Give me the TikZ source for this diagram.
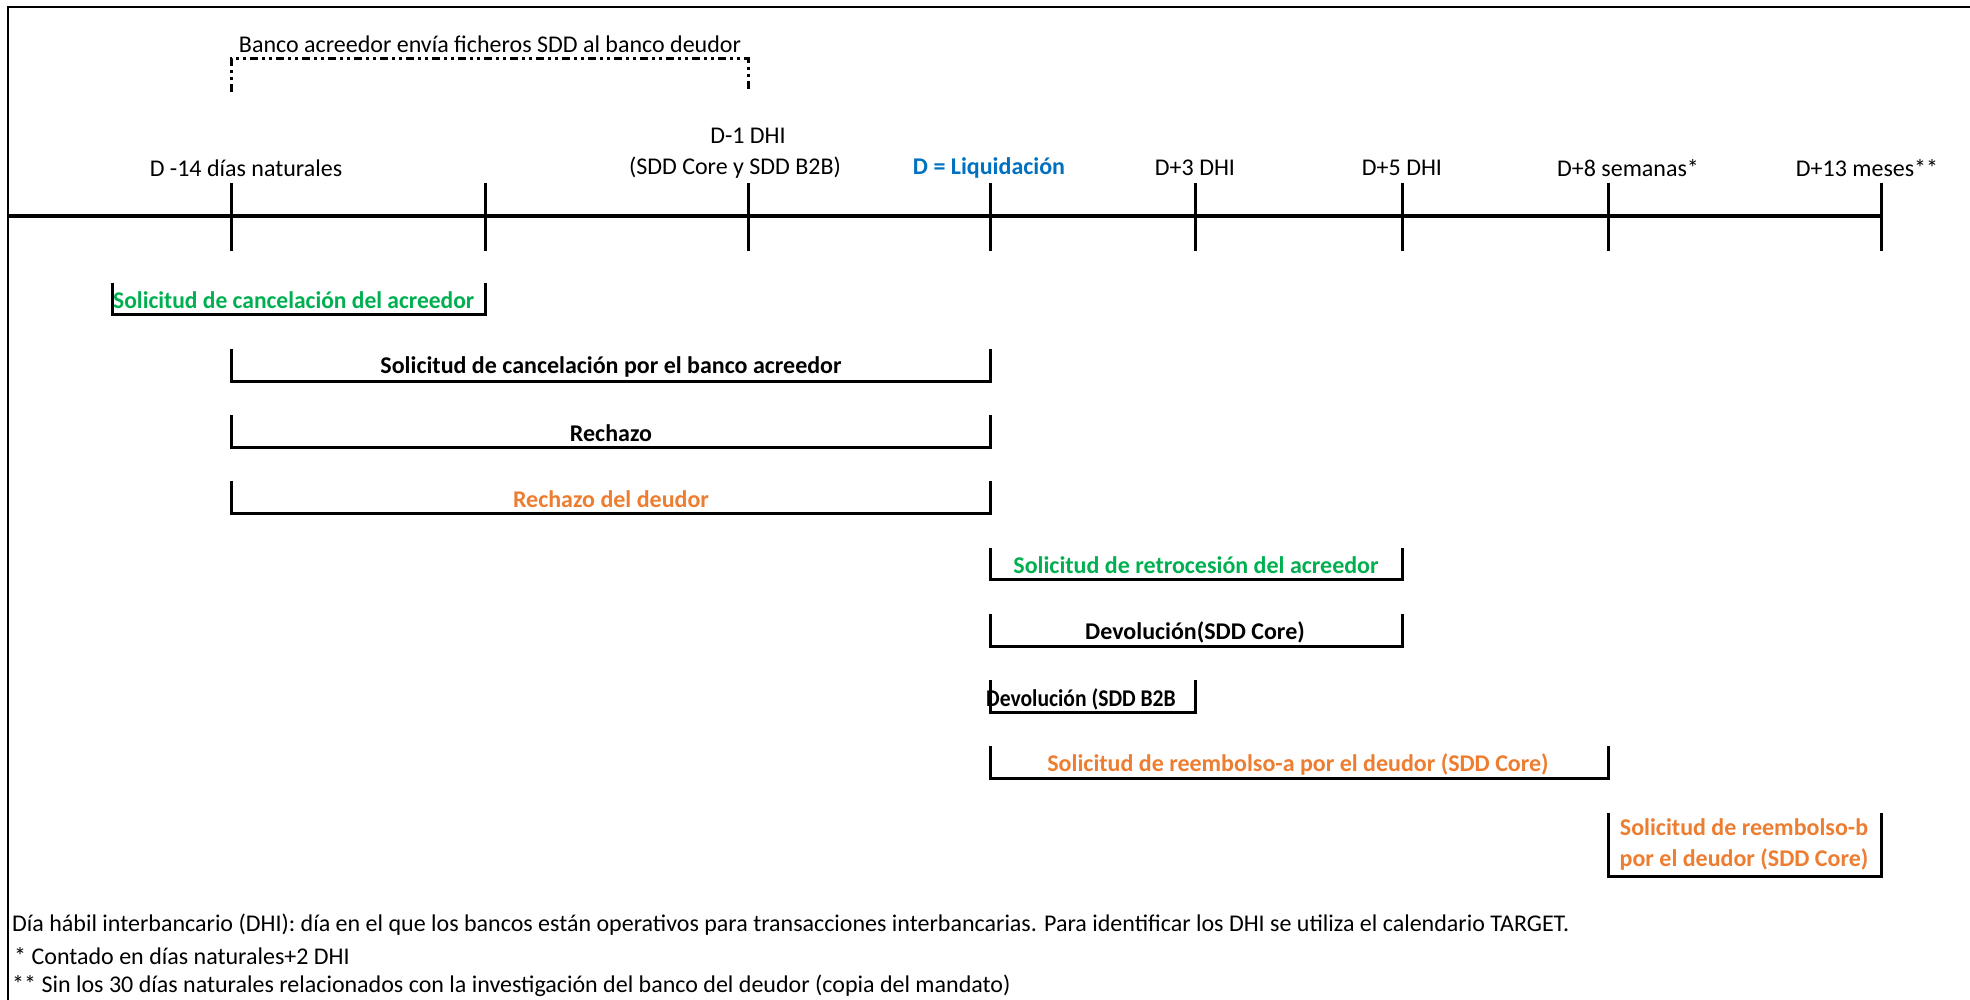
\documentclass[tikz,border=0pt]{standalone}
\usepackage{fontspec}
\setmainfont{Carlito}
\definecolor{exgreen}{HTML}{00B050}
\definecolor{exorange}{HTML}{ED7D31}
\definecolor{exblue}{HTML}{0070C0}
\begin{document}
\begin{tikzpicture}[x=1pt,y=-1pt,
  font=\fontsize{24}{28}\selectfont,
  lbl/.style={inner sep=0pt, anchor=center},
  blbl/.style={inner sep=0pt, anchor=center, font=\fontsize{24}{31}\selectfont\bfseries},
  bar/.style={line width=3pt, line join=miter},
  tick/.style={line width=3pt},
  axis/.style={line width=4.5pt}]
\useasboundingbox (0,0) rectangle (1970,1000);
% frame
\draw[line width=2.5pt] (8,1000) -- (8,7) -- (1970,7);
% tick coordinates
\foreach \n/\x in {a/231,b/485,c/748,d/990,e/1195,f/1402,g/1608,h/1881}{
  \coordinate (t\n) at (\x,183);
  \coordinate (u\n) at (\x,251);
}
\coordinate (axl) at (8,216);
\coordinate (axr) at (1881,216);
\draw[axis] (axl) -- (axr);
\foreach \n in {a,b,c,d,e,f,g,h}{\draw[tick] (t\n) -- (u\n);}
% top dash-dot bracket
\coordinate (s1) at (231,92);
\coordinate (s2) at (231,59);
\coordinate (s3) at (748,59);
\coordinate (s4) at (748,92);
\draw[line width=3pt, dash pattern=on 8pt off 4pt on 3pt off 4pt on 3pt off 4pt] (s1) -- (s2) -- (s3) -- (s4);
\node[lbl] (ttl) at (490,44) {Banco acreedor envía ficheros SDD al banco deudor};
% timeline labels
\node[lbl] (l1) at (246,168) {D -14 días naturales};
\node[lbl] (l2a) at (748,136) {D-1 DHI};
\node[lbl] (l2b) at (735,168) {(SDD Core y SDD B2B)};
\node[lbl, font=\fontsize{24}{28}\selectfont\bfseries, text=exblue] (l3) at (989,168) {D = Liquidación};
\node[lbl] (l4) at (1195,168) {D+3 DHI};
\node[lbl] (l5) at (1402,168) {D+5 DHI};
\node[lbl] (l6) at (1628,168) {D+8 semanas*};
\node[lbl] (l7) at (1867,168) {D+13 meses**};
% brackets
\draw[bar] (112,283) -- (112,314) -- (485,314) -- (485,283);
\node[blbl, anchor=west, text=exgreen] (b1) at (113,300) {\scalebox{0.98}[1]{Solicitud de cancelación del acreedor}};
\draw[bar] (231,349) -- (231,381) -- (990,381) -- (990,349);
\node[blbl] (b2) at (611,367) {Solicitud de cancelación por el banco acreedor};
\draw[bar] (231,415) -- (231,447) -- (990,447) -- (990,415);
\node[blbl] (b3) at (611,433) {Rechazo};
\draw[bar] (231,481) -- (231,513) -- (990,513) -- (990,481);
\node[blbl, text=exorange] (b4) at (611,499) {Rechazo del deudor};
\draw[bar] (990,548) -- (990,579) -- (1402,579) -- (1402,548);
\node[blbl, text=exgreen] (b5) at (1196,565) {Solicitud de retrocesión del acreedor};
\draw[bar] (990,614) -- (990,646) -- (1402,646) -- (1402,614);
\node[blbl] (b6) at (1195,632) {Devolución(SDD Core)};
\draw[bar] (990,680) -- (990,712) -- (1195,712) -- (1195,680);
\node[blbl, anchor=west] (b7) at (986,699) {\scalebox{0.9}[1]{Devolución (SDD B2B}};
\draw[bar] (990,746) -- (990,778) -- (1608,778) -- (1608,746);
\node[blbl, text=exorange] (b8) at (1298,764) {Solicitud de reembolso-a por el deudor (SDD Core)};
\draw[bar] (1608,813) -- (1608,876) -- (1881,876) -- (1881,813);
\node[blbl, text=exorange, align=center] (b9) at (1744,844) {Solicitud de reembolso-b\\por el deudor (SDD Core)};
% footnotes
\node[lbl, anchor=west] (f1) at (12,925) {Día hábil interbancario (DHI): día en el que los bancos están operativos para transacciones interbancarias. Para identificar los DHI se utiliza el calendario TARGET.};
\node[lbl, anchor=west] (f2) at (14,956) {* Contado en días naturales+2 DHI};
\node[lbl, anchor=west] (f3) at (12,986) {** Sin los 30 días naturales relacionados con la investigación del banco del deudor (copia del mandato)};
\end{tikzpicture}
\end{document}
